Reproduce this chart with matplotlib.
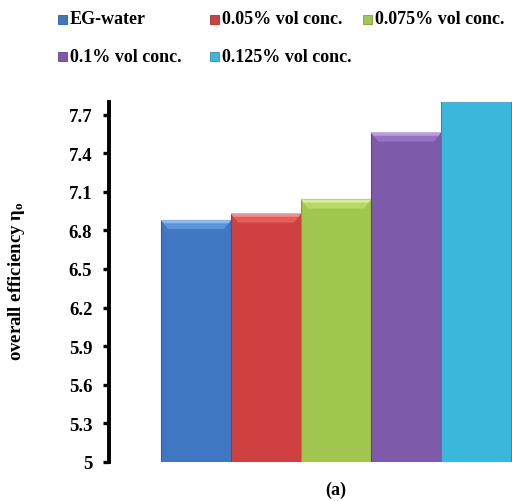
import matplotlib
matplotlib.use("Agg")
import matplotlib.pyplot as plt
from matplotlib.patches import Rectangle, Polygon
import numpy as np

series = ["EG-water", "0.05% vol conc.", "0.075% vol conc.", "0.1% vol conc.", "0.125% vol conc."]
values = [6.88, 6.93, 7.04, 7.56, 7.90]
colors = ["#3F77C3", "#CF4140", "#A1C750", "#7D5BAA", "#3BB7DC"]
bevel_colors = ["#5B93DC", "#E25C58", "#B6DA62", "#9572C2", "#5CCBEA"]
top_colors = ["#8CBBF2", "#F58A86", "#D6F08E", "#BE9BE6", "#8EE0F6"]
edge_colors = ["#2E5C9C", "#A23232", "#7F9E3C", "#5F4486", "#2A8FAE"]
yticks = [5, 5.3, 5.6, 5.9, 6.2, 6.5, 6.8, 7.1, 7.4, 7.7]
ytick_labels = ["5", "5.3", "5.6", "5.9", "6.2", "6.5", "6.8", "7.1", "7.4", "7.7"]
category = "(a)"

plt.rcParams['font.family'] = ['Liberation Serif', 'DejaVu Serif']
plt.rcParams['font.weight'] = 'bold'
plt.rcParams['mathtext.fontset'] = 'custom'
plt.rcParams['mathtext.rm'] = 'Liberation Serif:bold'
plt.rcParams['mathtext.it'] = 'Liberation Serif:bold'
plt.rcParams['mathtext.bf'] = 'Liberation Serif:bold'

W, H = 512, 502
fig = plt.figure(figsize=(W / 100, H / 100), dpi=100)
ax = fig.add_axes([109 / W, 39 / H, (W - 109) / W, (463 - 102.7) / H])

x = np.arange(len(values))
ax.bar(x, values, width=1.0, bottom=0, color=colors, edgecolor=edge_colors,
       linewidth=0.8, zorder=2)
# bevel at the top of each bar
bh, inset = 0.07, 0.1
for xi, v, bc, tc in zip(x, values, bevel_colors, top_colors):
    ax.add_patch(Polygon([(xi - 0.5, v), (xi + 0.5, v), (xi + 0.5 - inset, v - bh),
                          (xi - 0.5 + inset, v - bh)], closed=True, facecolor=bc,
                         edgecolor='none', zorder=3))
    ax.add_patch(Polygon([(xi - 0.5, v), (xi + 0.5, v), (xi + 0.5 - inset * 0.35, v - bh * 0.35),
                          (xi - 0.5 + inset * 0.35, v - bh * 0.35)], closed=True,
                         facecolor=tc, edgecolor='none', zorder=4))

ax.set_ylim(5, 7.8)
ax.set_xlim(-1.243, 4.514)
ax.set_yticks(yticks)
ax.set_yticklabels(ytick_labels, fontsize=13.5, fontweight='bold')
ax.set_xticks([])
for s in ['top', 'right', 'bottom']:
    ax.spines[s].set_visible(False)
ax.spines['left'].set_linewidth(2.8)
ax.spines['left'].set_zorder(5)
ax.tick_params(axis='y', direction='out', length=4, width=2.4, pad=8)

ax.set_ylabel(r'overall efficiency $\eta_{o}$', fontsize=13.5, fontweight='bold')
ax.yaxis.set_label_coords((27 - 109) / (W - 109), (463 - 281) / (463 - 102.7))

ax.annotate(category, xy=(2, 0), xycoords=('data', 'axes fraction'),
            xytext=(0, -27 * 0.72), textcoords='offset points',
            ha='center', va='center', fontsize=13, fontweight='bold')

# legend laid out as in the reference (row-wise, 3 columns)
col_x = [58, 210, 363]
row_y = [20, 57]
for i, (lab, c, ec) in enumerate(zip(series, colors, edge_colors)):
    r, cidx = divmod(i, 3)
    mx, my = col_x[cidx], row_y[r]
    fig.patches.append(Rectangle((mx / W, 1 - (my + 5) / H), 9 / W, 9 / H,
                                 transform=fig.transFigure, facecolor=c,
                                 edgecolor=ec, linewidth=0.6))
    fig.text((mx + 12) / W, 1 - my / H, lab, fontsize=13, fontweight='bold',
             ha='left', va='center')

fig.savefig("out.png", dpi=100)
